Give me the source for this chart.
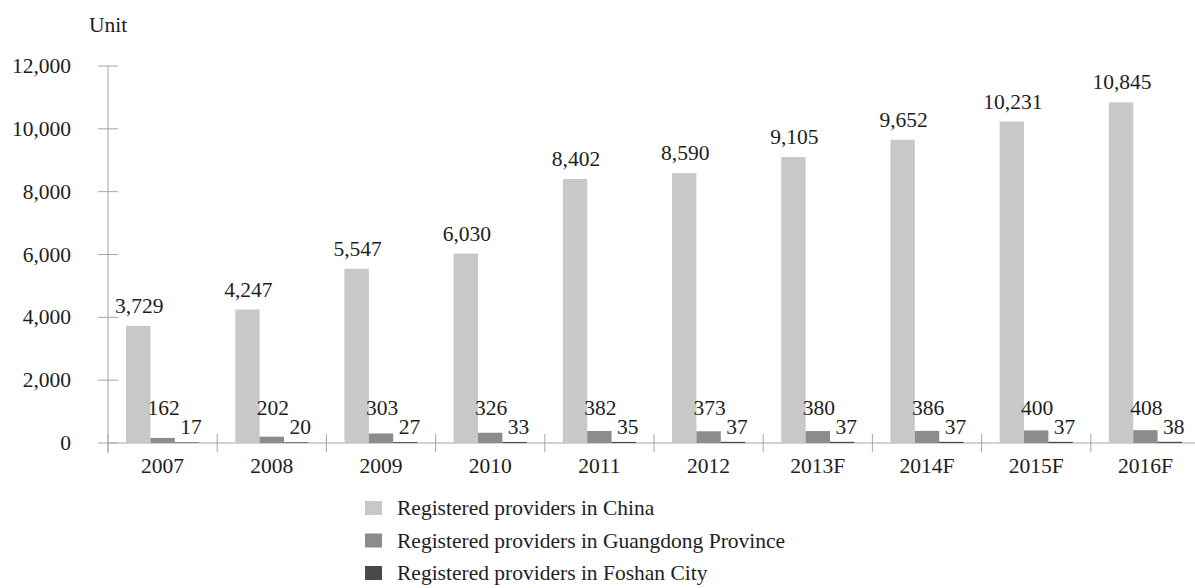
<!DOCTYPE html>
<html>
<head>
<meta charset="utf-8">
<script src="https://cdn.jsdelivr.net/npm/d3@7"></script>
<style>
  body { margin: 0; background: #fff; }
  text { font-family: "Liberation Serif", "Times New Roman", serif; fill: #1e1e1e; }
</style>
</head>
<body>
<div id="chart"></div>
<script>
const years = ["2007", "2008", "2009", "2010", "2011", "2012", "2013F", "2014F", "2015F", "2016F"];
const seriesNames = [
  "Registered providers in China",
  "Registered providers in Guangdong Province",
  "Registered providers in Foshan City",
];
const china = [3729, 4247, 5547, 6030, 8402, 8590, 9105, 9652, 10231, 10845];
const guangdong = [162, 202, 303, 326, 382, 373, 380, 386, 400, 408];
const foshan = [17, 20, 27, 33, 35, 37, 37, 37, 37, 38];
const yTicks = [0, 2000, 4000, 6000, 8000, 10000, 12000];
const colors = ["#c8c8c8", "#8c8c8c", "#4a4a4a"];

const W = 1195;
const H = 588;
const margin = { top: 66, right: -5, bottom: 145, left: 108 };
const fontSize = 21.5;

const svg = d3
  .select("#chart")
  .append("svg")
  .attr("width", W)
  .attr("height", H);

const x = d3
  .scaleBand()
  .domain(years)
  .range([margin.left, margin.left + 109.2 * years.length]);

const y = d3
  .scaleLinear()
  .domain([0, 12000])
  .range([H - margin.bottom, margin.top]);

const series = [china, guangdong, foshan];
const x1 = d3
  .scaleBand()
  .domain([0, 1, 2])
  .range([0, x.bandwidth()])
  .paddingOuter(0.74)
  .paddingInner(0);

const axisColor = "#a6a6a6";

// y axis
svg
  .append("line")
  .attr("x1", margin.left)
  .attr("x2", margin.left)
  .attr("y1", y(12000))
  .attr("y2", y(0) + 10)
  .attr("stroke", axisColor);

svg
  .selectAll(".ytick")
  .data(yTicks)
  .enter()
  .append("line")
  .attr("x1", margin.left - 10)
  .attr("x2", margin.left + 10)
  .attr("y1", (d) => y(d))
  .attr("y2", (d) => y(d))
  .attr("stroke", axisColor);

svg
  .selectAll(".ylabel")
  .data(yTicks)
  .enter()
  .append("text")
  .attr("x", 71)
  .attr("y", (d) => y(d) + 7)
  .attr("text-anchor", "end")
  .style("font-size", fontSize + "px")
  .text((d) => d3.format(",")(d));

svg
  .append("text")
  .attr("x", margin.left)
  .attr("y", 32)
  .attr("text-anchor", "middle")
  .style("font-size", fontSize + "px")
  .text("Unit");

// x axis
svg
  .append("line")
  .attr("x1", margin.left)
  .attr("x2", W)
  .attr("y1", y(0))
  .attr("y2", y(0))
  .attr("stroke", axisColor);

svg
  .selectAll(".xtick")
  .data(years)
  .enter()
  .append("line")
  .attr("x1", (d) => x(d))
  .attr("x2", (d) => x(d))
  .attr("y1", y(0) - 9)
  .attr("y2", y(0) + 9)
  .attr("stroke", axisColor);

svg
  .selectAll(".xlabel")
  .data(years)
  .enter()
  .append("text")
  .attr("x", (d) => x(d) + x.bandwidth() / 2)
  .attr("y", y(0) + 30)
  .attr("text-anchor", "middle")
  .style("font-size", fontSize + "px")
  .text((d) => d);

// bars
series.forEach((vals, s) => {
  const g = svg.append("g");
  g.selectAll("rect")
    .data(vals)
    .enter()
    .append("rect")
    .attr("x", (d, i) => x(years[i]) + x1(s))
    .attr("y", (d) => y(d))
    .attr("width", x1.bandwidth())
    .attr("height", (d) => y(0) - y(d))
    .attr("fill", colors[s]);

  g.selectAll("text")
    .data(vals)
    .enter()
    .append("text")
    .attr("x", (d, i) => x(years[i]) + x1(s) + x1.bandwidth() / 2 + (s === 2 ? 4 : 1))
    .attr("y", (d) => {
      if (s === 0) return y(d) - 13;
      if (s === 1) return Math.min(y(d) - 14, y(0) - 28);
      return y(d) - 8;
    })
    .attr("text-anchor", "middle")
    .style("font-size", fontSize + "px")
    .text((d) => d3.format(",")(d));
});

// legend
const legend = svg
  .selectAll(".legend")
  .data(seriesNames)
  .enter()
  .append("g")
  .attr("class", "legend")
  .attr("transform", (d, i) => `translate(365, ${501 + i * 32.5})`);

legend
  .append("rect")
  .attr("width", 17)
  .attr("height", 14)
  .attr("fill", (d, i) => colors[i]);

legend
  .append("text")
  .attr("x", 32)
  .attr("y", 14)
  .style("font-size", fontSize + "px")
  .text((d) => d);
</script>
</body>
</html>
